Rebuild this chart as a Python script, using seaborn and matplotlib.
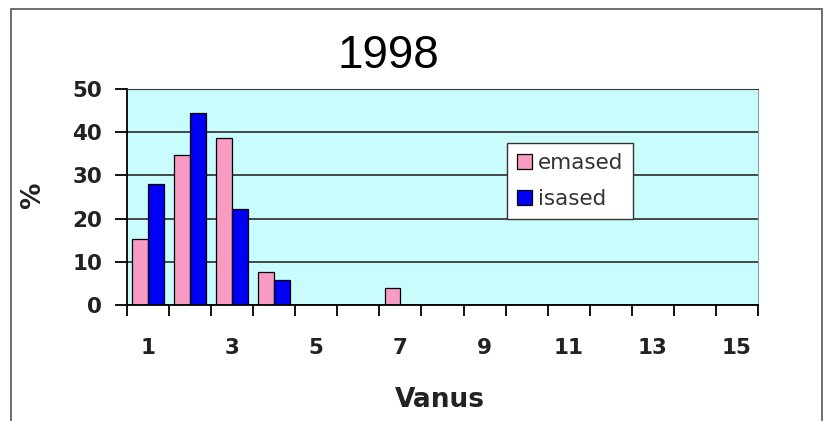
import numpy as np
import pandas as pd
import seaborn as sns
import matplotlib.pyplot as plt
from matplotlib.patches import Rectangle

plt.rcParams['font.family'] = ['Liberation Sans', 'DejaVu Sans']

# age groups and shares (%)
ages = ['1', '2', '3', '4', '5', '6', '7', '8', '9', '10', '11', '12', '13', '14', '15']
emased = [15.3, 34.8, 38.7, 7.7, 0, 0, 3.9, 0, 0, 0, 0, 0, 0, 0, 0]
isased = [28.0, 44.4, 22.2, 5.8, 0, 0, 0, 0, 0, 0, 0, 0, 0, 0, 0]
tick_labels = ['1', '3', '5', '7', '9', '11', '13', '15']
groups = ['emased', 'isased']

df = pd.DataFrame({
    'Vanus': ages * 2,
    'pct': emased + isased,
    'grupp': ['emased'] * len(ages) + ['isased'] * len(ages),
})

fig = plt.figure(figsize=(8.25, 4.21), dpi=100)
ax = fig.add_axes([127 / 825, 116 / 421, 631 / 825, 216 / 421])

sns.barplot(data=df, x='Vanus', y='pct', hue='grupp', order=ages, hue_order=groups,
            palette={'emased': '#F79BC3', 'isased': '#0000F5'}, saturation=1,
            edgecolor='black', linewidth=0.9, width=0.75, ax=ax)

ax.set_facecolor('#C9FCFC')
ax.set_xlim(-0.5, 14.5)
ax.set_ylim(0, 50)
ax.set_yticks([0, 10, 20, 30, 40, 50])
ax.set_xticks(range(0, 15, 2))
ax.set_xticklabels(tick_labels)
ax.set_xticks(np.arange(-0.5, 15, 1), minor=True)
ax.tick_params(axis='x', which='major', length=0, pad=24, labelcolor='#222222')
ax.tick_params(axis='x', which='minor', length=8, width=1.3, direction='out', color='black')
ax.tick_params(axis='y', length=9, width=1.3, pad=9, labelcolor='#222222')
for lab in ax.get_xticklabels() + ax.get_yticklabels():
    lab.set_fontfamily('DejaVu Sans')
    lab.set_fontweight('bold')
    lab.set_fontsize(15.5)
ax.set_xlabel('')
ax.set_ylabel('')

ax.yaxis.grid(True, color='#3a3a3a', linewidth=1.3)
ax.set_axisbelow(True)
ax.spines['left'].set_color('black')
ax.spines['left'].set_linewidth(1.3)
ax.spines['bottom'].set_color('black')
ax.spines['bottom'].set_linewidth(1.3)
ax.spines['top'].set_color('#3a3a3a')
ax.spines['right'].set_color('#7fa5a5')

leg = ax.legend(loc='upper left', bbox_to_anchor=(0.602, 0.75),
                prop={'family': 'DejaVu Sans', 'size': 15.5},
                frameon=True, fancybox=False, framealpha=1, edgecolor='#333333',
                handlelength=0.7, handleheight=0.7, handletextpad=0.3,
                borderpad=0.45, labelspacing=0.75, borderaxespad=0)
leg.get_frame().set_linewidth(1.0)
for t in leg.get_texts():
    t.set_color('#333333')

fig.text(388 / 825, 1 - 56 / 421, '1998', fontsize=33, ha='center', va='center')
fig.text(440 / 825, 1 - 400 / 421, 'Vanus', fontsize=19, fontweight='bold',
         family='DejaVu Sans', ha='center', va='center', color='#222222')
fig.text(33 / 825, 1 - 196 / 421, '%', fontsize=19, fontweight='bold', rotation=90,
         family='DejaVu Sans', ha='center', va='center', color='#222222')

fig.add_artist(Rectangle((11 / 825, -0.1), 811 / 825, 1.1 - 9 / 421,
                         transform=fig.transFigure, fill=False,
                         edgecolor='#555555', linewidth=1.2))

plt.savefig('out.png', dpi=100)
